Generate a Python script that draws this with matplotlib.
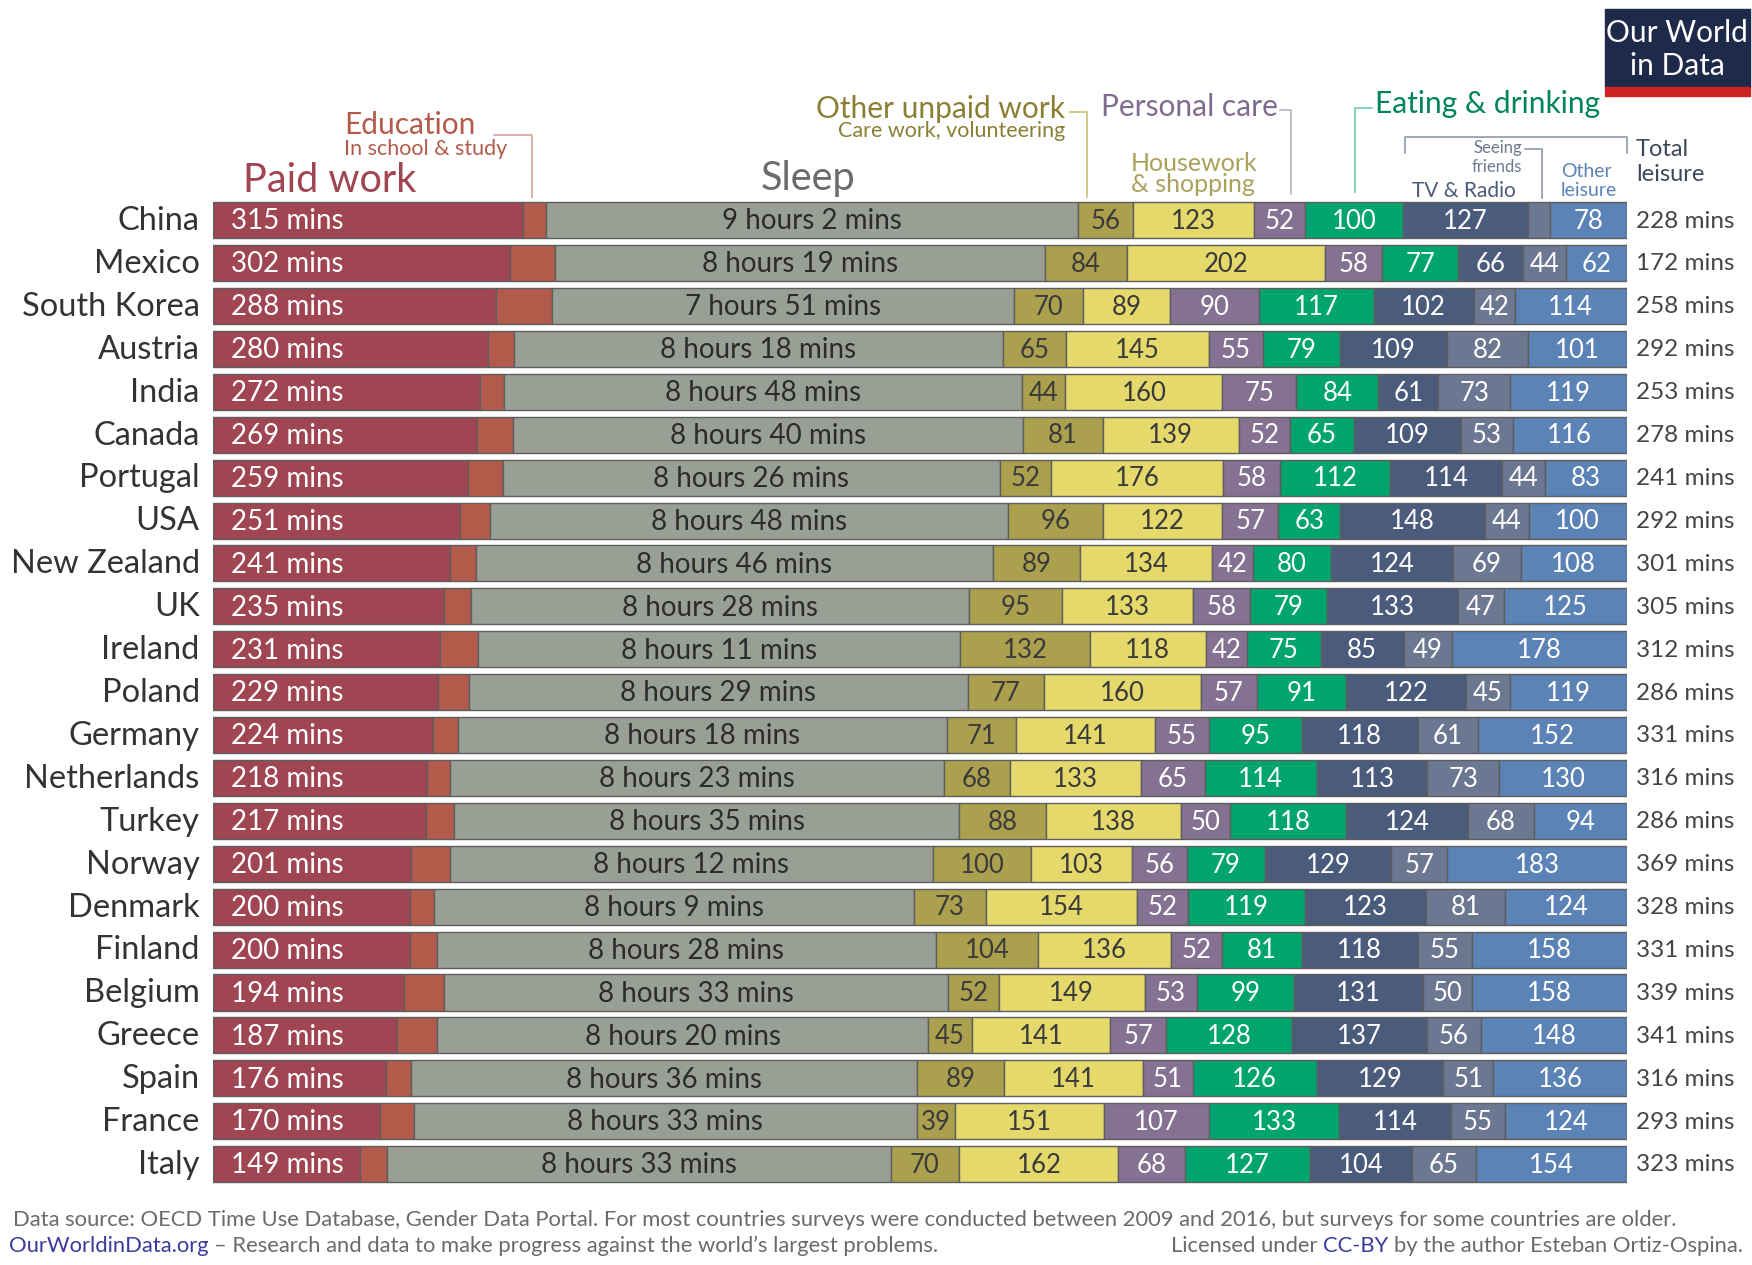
import numpy as np
import matplotlib
import matplotlib.pyplot as plt
from matplotlib.lines import Line2D
from matplotlib.patches import Rectangle

plt.rcParams['font.family'] = ['Lato', 'DejaVu Sans']

countries = ["China", "Mexico", "South Korea", "Austria", "India", "Canada", "Portugal",
             "USA", "New Zealand", "UK", "Ireland", "Poland", "Germany", "Netherlands",
             "Turkey", "Norway", "Denmark", "Finland", "Belgium", "Greece", "Spain",
             "France", "Italy"]
paid_work = [315, 302, 288, 280, 272, 269, 259, 251, 241, 235, 231, 229, 224, 218, 217,
             201, 200, 200, 194, 187, 176, 170, 149]
education = [24, 46, 57, 26, 24, 36, 36, 31, 27, 27, 39, 31, 25, 23, 28, 40, 25, 28, 41,
             41, 25, 34, 28]
sleep = [542, 499, 471, 498, 528, 520, 506, 528, 526, 508, 491, 509, 498, 503, 515, 492,
         489, 508, 513, 500, 516, 513, 513]
other_unpaid = [56, 84, 70, 65, 44, 81, 52, 96, 89, 95, 132, 77, 71, 68, 88, 100, 73, 104,
                52, 45, 89, 39, 70]
housework = [123, 202, 89, 145, 160, 139, 176, 122, 134, 133, 118, 160, 141, 133, 138, 103,
             154, 136, 149, 141, 141, 151, 162]
personal_care = [52, 58, 90, 55, 75, 52, 58, 57, 42, 58, 42, 57, 55, 65, 50, 56, 52, 52, 53,
                 57, 51, 107, 68]
eating = [100, 77, 117, 79, 84, 65, 112, 63, 80, 79, 75, 91, 95, 114, 118, 79, 119, 81, 99,
          128, 126, 133, 127]
tv_radio = [127, 66, 102, 109, 61, 109, 114, 148, 124, 133, 85, 122, 118, 113, 124, 129, 123,
            118, 131, 137, 129, 114, 104]
friends = [23, 44, 42, 82, 73, 53, 44, 44, 69, 47, 49, 45, 61, 73, 68, 57, 81, 55, 50, 56,
           51, 55, 65]
other_leisure = [78, 62, 114, 101, 119, 116, 83, 100, 108, 125, 178, 119, 152, 130, 94, 183,
                 124, 158, 158, 148, 136, 124, 154]
total_leisure = [228, 172, 258, 292, 253, 278, 241, 292, 301, 305, 312, 286, 331, 316, 286,
                 369, 328, 331, 339, 341, 316, 293, 323]

series = [paid_work, education, sleep, other_unpaid, housework, personal_care, eating,
          tv_radio, friends, other_leisure]
colors = ['#a04552', '#b35b4b', '#9a9f96', '#aba04e', '#e5d96b', '#857191', '#00a46e',
          '#4b5b7b', '#6c7891', '#5c83b5']
txt_colors = ['white', None, '#2b2b2b', '#3a3a3a', '#3a3a3a', 'white', 'white',
              'white', 'white', 'white']

W, H = 1752, 1265
fig = plt.figure(figsize=(W / 100, H / 100), dpi=100)
fig.patch.set_facecolor('white')

ax = fig.add_axes([0.1218, 0.0628, 0.8067, 0.7801])
n = len(countries)
y = np.arange(n)
left = np.zeros(n)
for k, (vals, c) in enumerate(zip(series, colors)):
    vals = np.array(vals)
    ax.barh(y, vals, left=left, height=0.84, color=c, edgecolor='#5e5e5e', linewidth=1.0)
    for i in range(n):
        v = vals[i]
        if k == 0:
            ax.text(18, i + 0.03, f"{v} mins", ha='left', va='center', color='white',
                    fontsize=20)
        elif k == 1:
            pass
        elif k == 2:
            ax.text(left[i] + v / 2, i + 0.03, f"{v // 60} hours {v % 60} mins",
                    ha='center', va='center', color=txt_colors[k], fontsize=20)
        elif v >= 35:
            ax.text(left[i] + v / 2, i + 0.03, str(v), ha='center', va='center',
                    color=txt_colors[k], fontsize=18.5)
    left = left + vals

for i in range(n):
    ax.text(-14, i + 0.02, countries[i], ha='right', va='center', fontsize=23.5,
            color='#333333')
    ax.text(1449, i + 0.02, f"{total_leisure[i]} mins", ha='left', va='center',
            fontsize=17.5, color='#444444')

ax.set_xlim(0, 1440)
ax.set_ylim(n - 0.5, -0.5)
ax.axis('off')

# header overlay in reference pixel coordinates
top = fig.add_axes([0, 0, 1, 1], zorder=5)
top.set_xlim(0, 1568)
top.set_ylim(1132, 0)
top.axis('off')

top.text(295, 172, "Paid work", ha='center', va='baseline', fontsize=28.5, color='#a04552')
top.text(308, 120, "Education", ha='left', va='baseline', fontsize=21.5, color='#b35b4b')
top.text(308, 139, "In school & study", ha='left', va='baseline', fontsize=15.5,
         color='#b35b4b')
top.add_line(Line2D([442, 476, 476], [121, 121, 176], color='#d9a29b', lw=1.2))

top.text(723, 170, "Sleep", ha='center', va='baseline', fontsize=28.5, color='#6b6b6b')

top.text(953, 106, "Other unpaid work", ha='right', va='baseline', fontsize=21.5,
         color='#8a7f32')
top.text(953, 123, "Care work, volunteering", ha='right', va='baseline', fontsize=15.5,
         color='#8a7f32')
top.add_line(Line2D([958, 973, 973], [100, 100, 176], color='#c8bf72', lw=1.2))

top.text(985, 104, "Personal care", ha='left', va='baseline', fontsize=21.5, color='#7f6b8e')
top.add_line(Line2D([1146, 1155, 1155], [98, 98, 174], color='#bdb2c6', lw=1.2))

top.text(1012, 153, "Housework", ha='left', va='baseline', fontsize=18, color='#aaa15a')
top.text(1012, 172, "& shopping", ha='left', va='baseline', fontsize=18, color='#aaa15a')

top.text(1231, 101, "Eating & drinking", ha='left', va='baseline', fontsize=21.5,
         color='#008558')
top.add_line(Line2D([1228, 1213, 1213], [97, 97, 172], color='#6fd0a8', lw=1.2))

top.add_line(Line2D([1257, 1257, 1456, 1456], [137, 123, 123, 137], color='#9098aa', lw=1.2))
top.text(1362, 137, "Seeing", ha='right', va='baseline', fontsize=12, color='#6c7891')
top.text(1362, 154, "friends", ha='right', va='baseline', fontsize=12, color='#6c7891')
top.add_line(Line2D([1365, 1380, 1380], [133, 133, 177], color='#9098aa', lw=1.2))
top.text(1264, 176, "TV & Radio", ha='left', va='baseline', fontsize=15, color='#4b5b7b')
top.text(1397, 158, "Other", ha='left', va='baseline', fontsize=14, color='#5c83b5')
top.text(1397, 175, "leisure", ha='left', va='baseline', fontsize=14, color='#5c83b5')
top.text(1464, 140, "Total", ha='left', va='baseline', fontsize=17, color='#3f4858')
top.text(1464, 162, "leisure", ha='left', va='baseline', fontsize=17, color='#3f4858')

# logo
top.add_patch(Rectangle((1436, 8), 130, 70, color='#1d2a4a'))
top.add_patch(Rectangle((1436, 78), 130, 8, color='#cc2222'))
top.text(1501, 38, "Our World", ha='center', va='baseline', fontsize=21.5, color='white')
top.text(1501, 67, "in Data", ha='center', va='baseline', fontsize=21.5, color='white')

# footer
grey = '#6a6a6a'
blue = '#3b3b9b'
fs = 15.8
top.text(12, 1097, "Data source: OECD Time Use Database, Gender Data Portal. For most countries "
         "surveys were conducted between 2009 and 2016, but surveys for some countries are older.",
         ha='left', va='baseline', fontsize=fs, color=grey)
t1 = top.text(8, 1120, "OurWorldinData.org", ha='left', va='baseline', fontsize=fs, color=blue)
top.annotate("\u2013 Research and data to make progress against the world\u2019s largest problems.",
             xy=(1, 0), xycoords=t1, xytext=(4, 0), textcoords='offset points',
             va='bottom', ha='left', fontsize=fs, color=grey)
t3 = top.text(1560, 1120, "by the author Esteban Ortiz-Ospina.", ha='right', va='baseline',
              fontsize=fs, color=grey)
t4 = top.annotate("CC-BY", xy=(0, 0), xycoords=t3, xytext=(-4, 0), textcoords='offset points',
                  va='bottom', ha='right', fontsize=fs, color=blue)
top.annotate("Licensed under", xy=(0, 0), xycoords=t4, xytext=(-4, 0),
             textcoords='offset points', va='bottom', ha='right', fontsize=fs, color=grey)

plt.savefig('out.png', dpi=100, facecolor='white')
